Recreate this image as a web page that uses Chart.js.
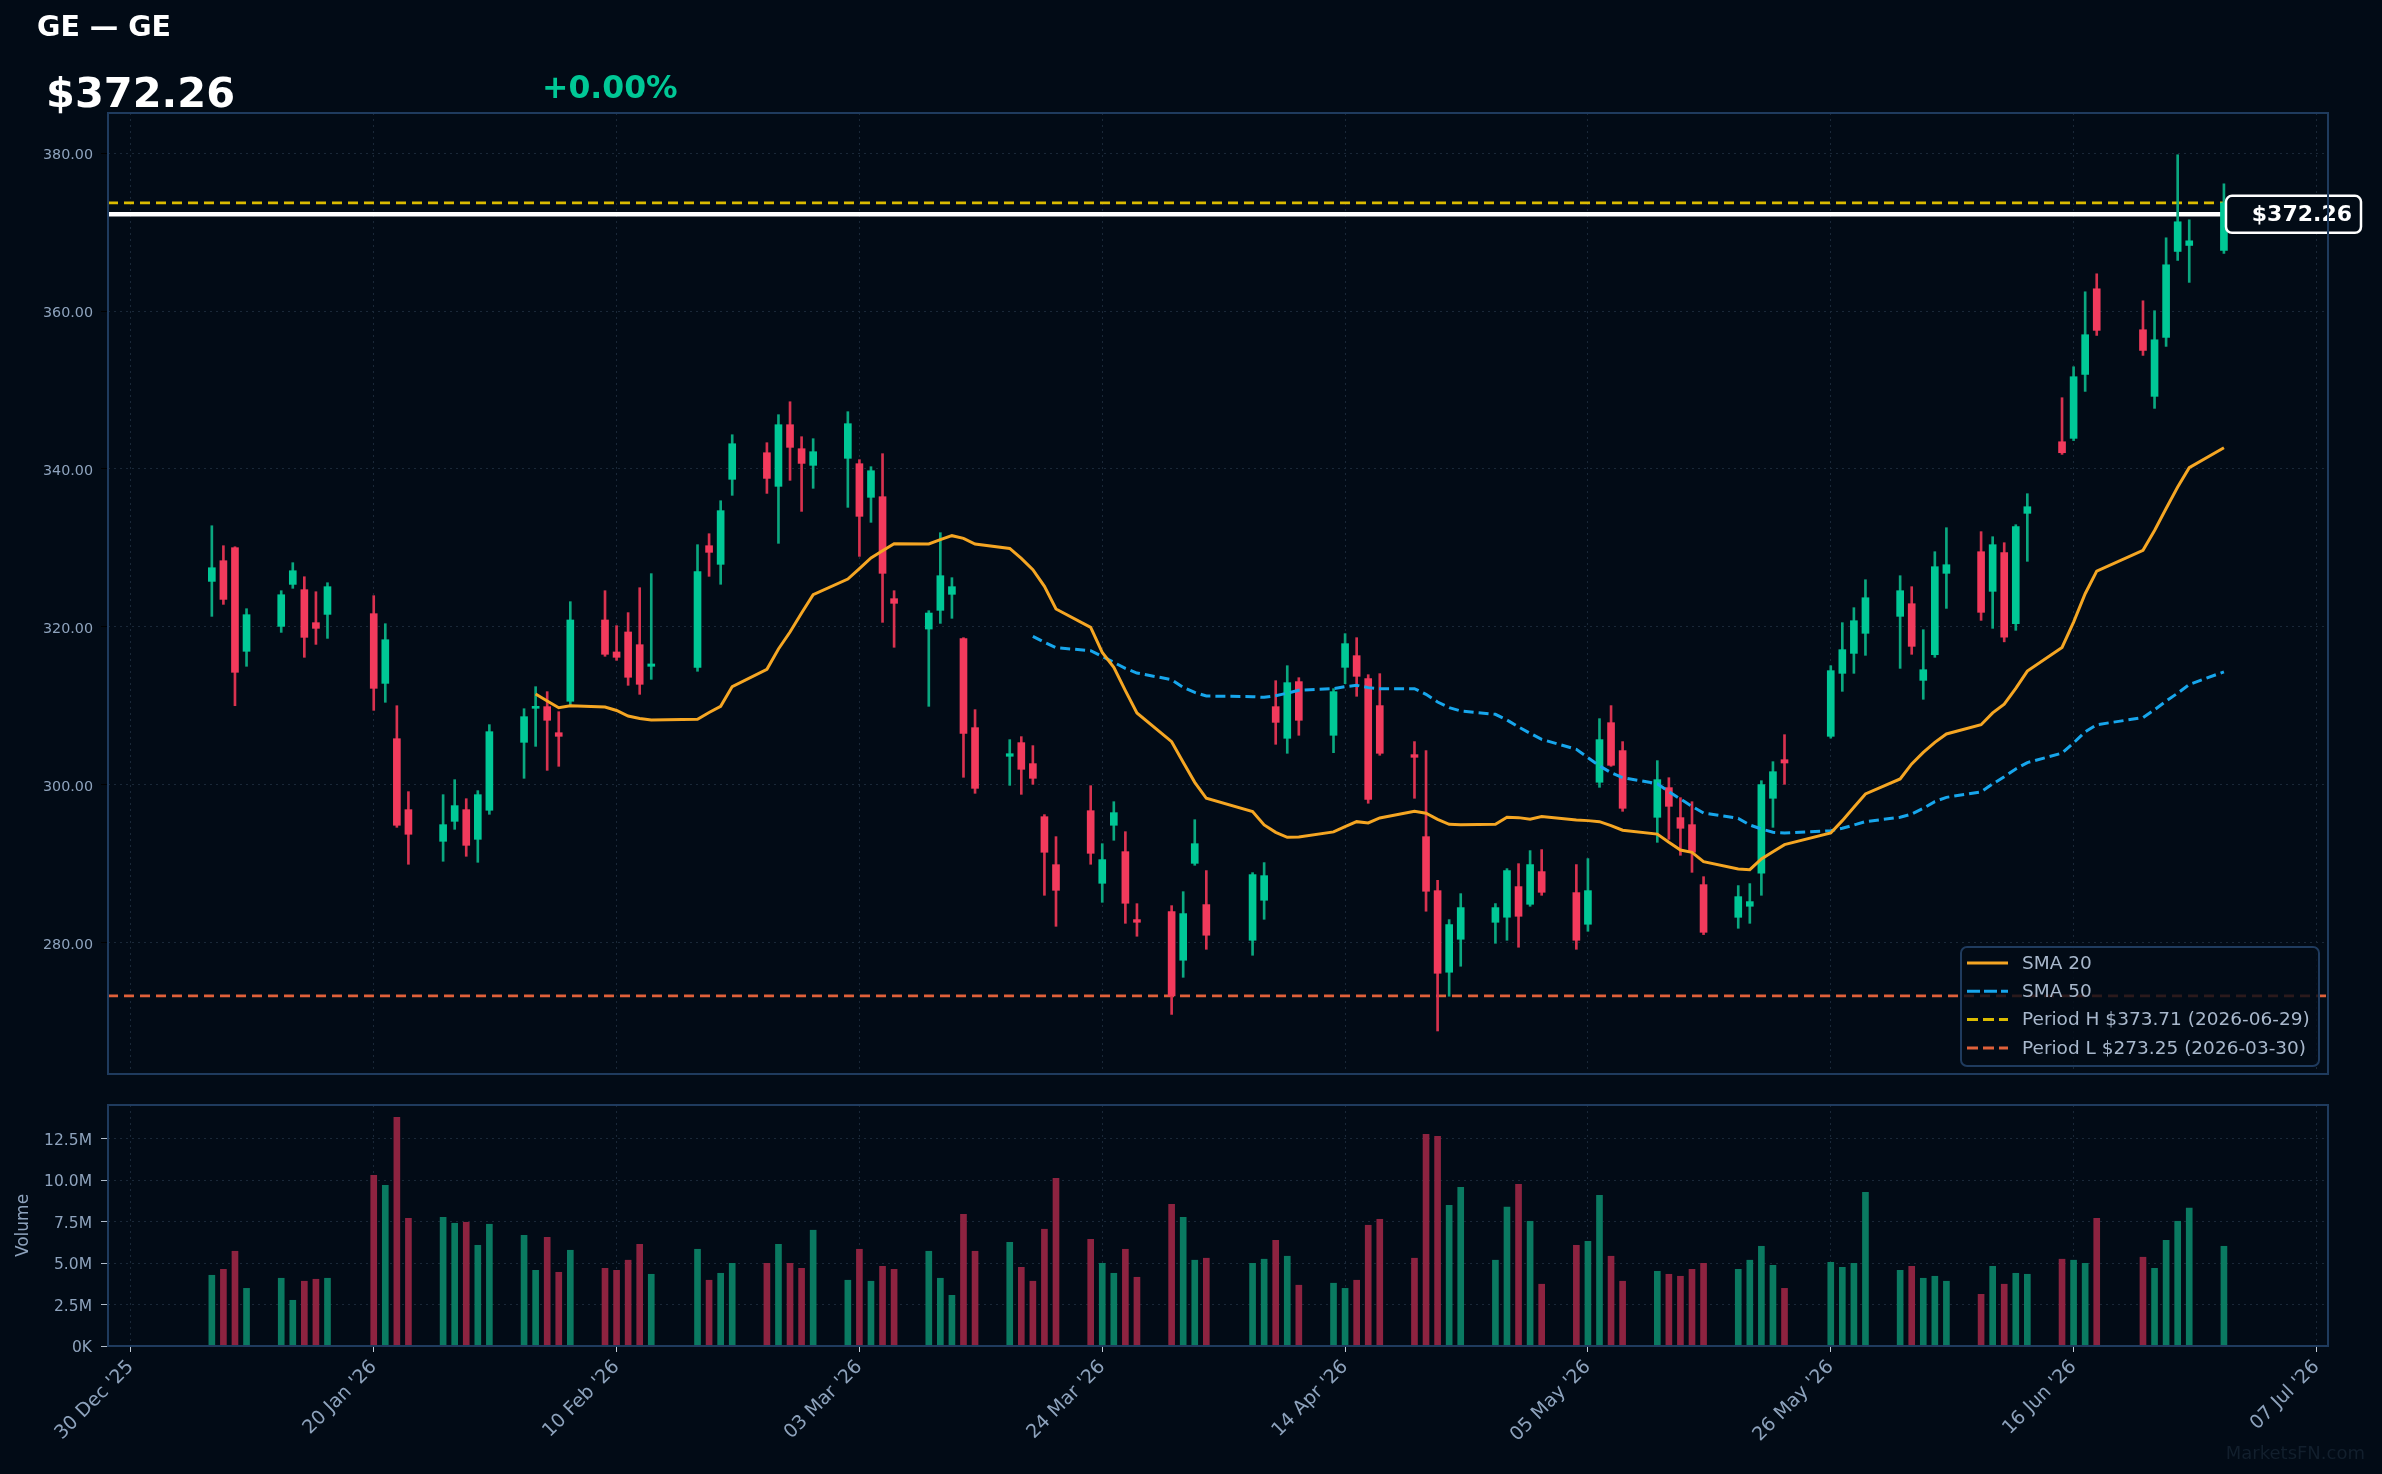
<!DOCTYPE html>
<html>
<head>
<meta charset="utf-8">
<script src="https://cdn.jsdelivr.net/npm/chart.js@4.4.1/dist/chart.umd.min.js"></script>
<style>
  html, body { margin: 0; padding: 0; background: #020b16; }
  body { width: 2382px; height: 1474px; position: relative; overflow: hidden; font-family: "DejaVu Sans", sans-serif; }
  canvas { position: absolute; left: 0; }
  #price { top: 0; }
  #volume { top: 1090px; }
  .txt { position: absolute; white-space: nowrap; line-height: 1; font-weight: bold; z-index: 2; }
  #title { left: 37px; top: 13px; font-size: 28.5px; color: #ffffff; }
  #last { left: 46px; top: 72px; font-size: 41.5px; color: #ffffff; }
  #change { left: 542px; top: 72px; font-size: 31.5px; color: #00c896; }
  #mark { right: 17px; top: 1444px; font-size: 18px; color: #121f2d; font-weight: normal; }
</style>
</head>
<body>
<div class="txt" id="title">GE — GE</div>
<div class="txt" id="last">$372.26</div>
<div class="txt" id="change">+0.00%</div>
<div class="txt" id="mark">MarketsFN.com</div>
<canvas id="price" width="2382" height="1090"></canvas>
<canvas id="volume" width="2382" height="384"></canvas>
<script>
// daily candles
const dates = [
  '2026-01-06','2026-01-07','2026-01-08','2026-01-09','2026-01-12','2026-01-13','2026-01-14','2026-01-15','2026-01-16',
  '2026-01-20','2026-01-21','2026-01-22','2026-01-23','2026-01-26','2026-01-27','2026-01-28','2026-01-29','2026-01-30',
  '2026-02-02','2026-02-03','2026-02-04','2026-02-05','2026-02-06','2026-02-09','2026-02-10','2026-02-11','2026-02-12','2026-02-13',
  '2026-02-17','2026-02-18','2026-02-19','2026-02-20','2026-02-23','2026-02-24','2026-02-25','2026-02-26','2026-02-27',
  '2026-03-02','2026-03-03','2026-03-04','2026-03-05','2026-03-06','2026-03-09','2026-03-10','2026-03-11','2026-03-12','2026-03-13',
  '2026-03-16','2026-03-17','2026-03-18','2026-03-19','2026-03-20','2026-03-23','2026-03-24','2026-03-25','2026-03-26','2026-03-27',
  '2026-03-30','2026-03-31','2026-04-01','2026-04-02',
  '2026-04-06','2026-04-07','2026-04-08','2026-04-09','2026-04-10','2026-04-13','2026-04-14','2026-04-15','2026-04-16','2026-04-17',
  '2026-04-20','2026-04-21','2026-04-22','2026-04-23','2026-04-24','2026-04-27','2026-04-28','2026-04-29','2026-04-30',
  '2026-05-01','2026-05-04','2026-05-05','2026-05-06','2026-05-07','2026-05-08','2026-05-11','2026-05-12','2026-05-13','2026-05-14','2026-05-15',
  '2026-05-18','2026-05-19','2026-05-20','2026-05-21','2026-05-22','2026-05-26','2026-05-27','2026-05-28','2026-05-29',
  '2026-06-01','2026-06-02','2026-06-03','2026-06-04','2026-06-05','2026-06-08','2026-06-09','2026-06-10','2026-06-11','2026-06-12',
  '2026-06-15','2026-06-16','2026-06-17','2026-06-18','2026-06-22','2026-06-23','2026-06-24','2026-06-25','2026-06-26','2026-06-29'
];
const opens = [
  325.76,328.38,330.03,316.90,320.06,325.38,324.71,320.53,321.58,321.67,312.84,305.83,296.84,292.83,295.36,296.84,293.08,296.76,
  305.37,309.68,309.89,306.59,310.57,320.87,316.82,319.35,317.74,315.00,314.87,330.28,327.92,338.69,342.06,337.80,345.61,342.57,340.46,
  341.35,340.67,336.41,336.49,323.57,319.72,322.09,324.12,318.50,307.23,303.60,305.33,302.67,295.95,289.87,296.71,287.51,294.86,291.52,282.91,283.92,277.76,
  290.04,284.81,
  280.29,285.36,309.89,305.88,313.06,306.26,314.87,316.35,313.44,310.02,303.81,293.42,286.58,276.24,280.42,282.57,283.21,287.09,284.85,
  288.99,286.33,282.32,300.31,307.86,304.32,295.87,299.63,295.83,294.94,287.34,283.20,284.60,288.78,298.28,303.17,306.13,314.11,316.64,319.18,
  321.33,322.93,313.22,316.47,326.78,329.52,324.50,329.40,320.40,334.38,343.45,343.88,351.98,362.83,357.64,349.20,356.67,367.56,368.32,367.69
];
const highs = [
  332.81,330.28,330.15,322.30,324.58,328.13,326.35,324.45,325.59,323.95,320.40,310.01,299.12,298.74,300.64,298.23,299.25,307.61,
  309.63,312.42,311.79,309.25,323.19,324.58,320.15,321.80,324.96,326.74,330.41,331.80,335.98,344.34,343.33,346.88,348.52,344.09,343.84,
  347.26,341.18,340.29,341.94,324.58,322.05,331.93,326.23,318.63,309.51,305.71,306.09,304.95,296.21,293.42,299.88,292.53,297.85,294.05,284.93,284.68,286.45,
  295.57,289.12,
  288.86,290.13,313.18,315.08,313.56,312.17,319.14,318.63,313.94,314.07,305.46,304.32,287.89,282.91,286.20,284.94,289.37,290.00,291.65,
  291.78,289.88,290.64,308.37,310.02,305.46,303.05,300.89,298.36,297.85,288.35,287.22,287.47,300.51,302.92,306.34,315.08,320.53,322.43,325.97,
  326.48,325.09,319.64,329.52,332.56,332.06,331.42,330.66,332.94,336.87,349.03,352.95,362.45,364.73,361.31,360.05,369.29,379.81,371.57,376.13
];
const lows = [
  321.33,322.85,310.01,315.00,319.30,324.88,316.14,317.78,318.54,309.42,310.44,294.60,289.92,290.30,294.35,290.93,290.17,296.25,
  300.81,304.86,301.82,302.33,310.10,316.27,315.76,312.59,311.45,313.35,314.37,326.40,325.39,336.66,336.91,330.58,338.56,334.63,337.55,
  335.14,328.93,333.24,320.57,317.41,309.93,320.44,321.08,300.94,298.91,299.92,298.78,300.05,285.99,282.06,289.92,285.10,292.96,282.44,280.80,270.90,275.60,
  289.79,279.15,
  278.39,282.95,305.12,303.98,306.26,304.06,312.80,311.20,297.65,303.73,298.28,283.97,268.80,273.20,277.00,279.91,280.29,279.41,284.60,
  285.99,279.15,281.43,299.67,302.33,296.63,292.70,293.08,291.06,288.90,281.01,281.81,282.44,285.99,294.60,300.05,305.90,311.83,314.11,316.39,
  314.74,316.52,310.82,316.14,322.34,320.82,319.81,318.10,319.56,328.30,341.85,343.60,349.83,356.92,354.39,347.68,355.53,366.42,363.64,367.31
];
const closes = [
  327.49,323.48,314.24,321.54,324.07,327.11,318.67,319.81,325.09,312.21,318.37,294.86,293.72,294.94,297.35,292.32,298.74,306.72,
  308.62,309.89,308.16,306.13,320.87,316.52,316.14,313.61,312.72,315.30,326.99,329.44,334.72,343.20,338.81,345.61,342.74,340.71,342.19,
  345.74,334.00,339.78,326.78,322.98,321.75,326.48,325.09,306.51,299.54,303.93,301.95,300.81,291.44,286.62,291.31,290.51,296.46,284.98,282.57,273.25,283.67,
  292.53,280.93,
  288.61,288.48,307.90,312.93,308.16,311.79,317.87,313.73,298.15,303.98,303.47,286.50,276.11,282.28,284.43,284.43,289.12,283.33,289.88,
  286.37,280.29,286.58,305.71,302.46,297.01,300.64,297.26,294.48,291.44,281.30,285.82,285.19,300.01,301.65,302.75,314.45,317.11,320.78,323.69,
  324.58,317.53,314.57,327.62,327.87,321.84,330.41,318.70,332.69,335.22,342.06,351.69,357.01,357.56,355.02,356.37,365.87,371.32,368.91,373.71
];
const volumes = [
  4.27e6,4.63e6,5.72e6,3.48e6,4.09e6,2.76e6,3.91e6,4.03e6,4.09e6,10.31e6,9.70e6,13.81e6,7.71e6,7.77e6,7.41e6,7.47e6,6.08e6,7.35e6,
  6.68e6,4.57e6,6.56e6,4.45e6,5.78e6,4.69e6,4.57e6,5.18e6,6.14e6,4.33e6,5.84e6,3.97e6,4.39e6,4.99e6,4.99e6,6.14e6,4.99e6,4.69e6,6.99e6,
  3.97e6,5.84e6,3.91e6,4.81e6,4.63e6,5.72e6,4.09e6,3.06e6,7.95e6,5.72e6,6.26e6,4.75e6,3.91e6,7.05e6,10.13e6,6.44e6,4.99e6,4.39e6,5.84e6,4.15e6,8.56e6,7.77e6,
  5.18e6,5.30e6,
  4.99e6,5.24e6,6.38e6,5.42e6,3.67e6,3.79e6,3.48e6,3.97e6,7.29e6,7.65e6,5.30e6,12.78e6,12.66e6,8.50e6,9.58e6,5.18e6,8.38e6,9.76e6,7.53e6,
  3.73e6,6.08e6,6.32e6,9.10e6,5.42e6,3.91e6,4.51e6,4.33e6,4.21e6,4.63e6,4.99e6,4.63e6,5.18e6,6.02e6,4.87e6,3.48e6,5.05e6,4.75e6,4.99e6,9.28e6,
  4.57e6,4.81e6,4.09e6,4.21e6,3.91e6,3.12e6,4.81e6,3.73e6,4.39e6,4.33e6,5.24e6,5.18e6,4.99e6,7.71e6,5.36e6,4.69e6,6.38e6,7.53e6,8.32e6,6.02e6
];
// moving averages as drawn (null before enough history)
const sma20 = [
  null,null,null,null,null,null,null,null,null,null,null,null,null,null,null,null,null,null,null,
  311.5,310.6,309.75,310.0,309.85,309.4,308.7,308.4,308.2,308.3,309.15,309.93,312.43,314.62,317.20,319.35,321.76,324.08,
  326.06,327.37,328.72,329.65,330.54,330.5,331.04,331.55,331.21,330.49,329.94,328.68,327.24,325.13,322.26,319.94,316.77,314.87,311.91,309.09,305.45,302.84,
  300.30,298.28,
  296.59,294.90,293.97,293.34,293.38,294.02,294.69,295.32,295.16,295.79,296.63,296.38,295.62,294.99,294.94,294.99,295.87,295.83,295.62,
  295.96,295.54,295.45,295.32,294.82,294.23,293.74,292.70,291.73,291.44,290.26,289.33,289.24,290.59,291.52,292.41,293.89,295.45,297.14,298.83,
  300.73,302.63,304.10,305.37,306.43,307.6,309.1,310.2,312.2,314.4,317.4,320.6,324.20,327.07,329.69,332.2,335.0,337.71,340.16,342.69
];
const sma50 = [
  null,null,null,null,null,null,null,null,null,null,null,null,null,null,null,null,null,null,
  null,null,null,null,null,null,null,null,null,null,null,null,null,null,null,null,null,null,null,
  null,null,null,null,null,null,null,null,null,null,null,null,
  318.80,318.04,317.36,316.98,316.26,315.50,314.74,314.15,313.31,312.34,
  311.70,311.24,
  311.15,311.07,311.28,311.6,311.96,312.17,312.42,312.59,312.30,312.17,312.17,311.45,310.48,309.76,309.34,308.92,308.20,307.32,306.51,
  305.75,304.49,303.43,302.38,301.53,300.90,300.12,299.12,298.19,297.26,296.42,295.74,294.90,294.39,293.97,293.89,294.18,294.48,294.90,295.32,
  295.87,296.29,297.01,297.86,298.40,299.1,300.1,301.0,302.0,302.8,304.0,305.3,306.7,307.6,308.5,309.5,310.6,311.6,312.7,314.3
];
const xTickDates = ['2025-12-30','2026-01-20','2026-02-10','2026-03-03','2026-03-24','2026-04-14','2026-05-05','2026-05-26','2026-06-16','2026-07-07'];
const xTickLabels = ["30 Dec '25","20 Jan '26","10 Feb '26","03 Mar '26","24 Mar '26","14 Apr '26","05 May '26","26 May '26","16 Jun '26","07 Jul '26"];
const priceTicks = [280, 300, 320, 340, 360, 380];
const volumeTicks = [0, 2.5e6, 5e6, 7.5e6, 10e6, 12.5e6];
const lastPrice = 372.26;
const periodHigh = 373.71, periodHighDate = '2026-06-29';
const periodLow = 273.25, periodLowDate = '2026-03-30';

const BG = '#020b16';
const GRID = '#1a2838';
const SPINE = '#1f3b5e';
const TICKTXT = '#8ea3bd';
const GREEN = '#00c896', RED = '#f23a5c';
const WICK_G = '#0aa880', WICK_R = '#d8324f';
const VOL_G = '#0a7a61', VOL_R = '#8d2340';
const SMA20_C = '#f5a623', SMA50_C = '#17a6ec';
const HI_C = '#dcbc00', LO_C = '#e0613a';

Chart.defaults.font.family = "'DejaVu Sans', sans-serif";

const base = Date.UTC(2025, 11, 30);
const dayOf = s => (Date.parse(s + 'T00:00:00Z') - base) / 864e5;
const days = dates.map(dayOf);
const xTickDays = xTickDates.map(dayOf);
const up = closes.map((c, i) => c >= opens[i]);
const xMin = -1.98, xMax = 190;

function hline(ctx, a, y, color, width, dash) {
  ctx.beginPath();
  ctx.setLineDash(dash);
  ctx.strokeStyle = color;
  ctx.lineWidth = width;
  ctx.moveTo(a.left, y);
  ctx.lineTo(a.right, y);
  ctx.stroke();
}

function roundRect(ctx, x, y, w, h, r) {
  ctx.beginPath();
  ctx.moveTo(x + r, y);
  ctx.arcTo(x + w, y, x + w, y + h, r);
  ctx.arcTo(x + w, y + h, x, y + h, r);
  ctx.arcTo(x, y + h, x, y, r);
  ctx.arcTo(x, y, x + w, y, r);
  ctx.closePath();
}

// keep axis label overhang from shrinking the plot boxes
function fixBox(s, size) {
  if (s.isHorizontal()) s.height = size; else s.width = size;
  s.paddingTop = 0; s.paddingBottom = 0; s.paddingLeft = 0; s.paddingRight = 0;
}

const legendItems = [
  { label: 'SMA 20', color: SMA20_C, dash: [] },
  { label: 'SMA 50', color: SMA50_C, dash: [13, 4] },
  { label: 'Period H $' + periodHigh.toFixed(2) + ' (' + periodHighDate + ')', color: HI_C, dash: [11, 5] },
  { label: 'Period L $' + periodLow.toFixed(2) + ' (' + periodLowDate + ')', color: LO_C, dash: [11, 5] }
];

const frame = {
  id: 'frame',
  afterDraw(chart) {
    const { ctx, chartArea: a } = chart;
    ctx.save();
    ctx.setLineDash([]);
    ctx.strokeStyle = SPINE;
    ctx.lineWidth = 2;
    ctx.strokeRect(a.left, a.top, a.width, a.height);
    ctx.restore();
  }
};

const priceDecor = {
  id: 'priceDecor',
  beforeDatasetsDraw(chart) {
    const { ctx, chartArea: a, scales: { y } } = chart;
    ctx.save();
    ctx.beginPath();
    ctx.rect(a.left, a.top, a.width, a.height);
    ctx.clip();
    hline(ctx, a, y.getPixelForValue(periodLow), LO_C, 2.6, [10, 6]);
    hline(ctx, a, y.getPixelForValue(periodHigh), HI_C, 2.6, [10, 6]);
    hline(ctx, a, y.getPixelForValue(lastPrice), '#ffffff', 4.5, []);
    ctx.restore();
  },
  afterDraw(chart) {
    const { ctx, chartArea: a, scales: { y } } = chart;
    ctx.save();
    // legend
    const w = 358, h = 119;
    const lx = a.right - 9 - w, ly = a.bottom - 8 - h;
    roundRect(ctx, lx, ly, w, h, 6);
    ctx.fillStyle = 'rgba(2,11,22,0.82)';
    ctx.fill();
    ctx.strokeStyle = SPINE;
    ctx.lineWidth = 2;
    ctx.stroke();
    ctx.font = '18.5px "DejaVu Sans"';
    ctx.textBaseline = 'middle';
    ctx.textAlign = 'left';
    legendItems.forEach((it, i) => {
      const cy = ly + 16 + i * 28.3;
      ctx.beginPath();
      ctx.setLineDash(it.dash);
      ctx.strokeStyle = it.color;
      ctx.lineWidth = 3;
      ctx.moveTo(lx + 6, cy);
      ctx.lineTo(lx + 47, cy);
      ctx.stroke();
      ctx.setLineDash([]);
      ctx.fillStyle = '#a8b8cc';
      ctx.fillText(it.label, lx + 61, cy + 1);
    });
    // last price tag
    const py = y.getPixelForValue(lastPrice);
    roundRect(ctx, a.right - 102, py - 18.5, 135, 37, 6);
    ctx.fillStyle = BG;
    ctx.fill();
    ctx.strokeStyle = '#ffffff';
    ctx.lineWidth = 2.5;
    ctx.stroke();
    ctx.fillStyle = '#ffffff';
    ctx.font = 'bold 22px "DejaVu Sans"';
    ctx.textAlign = 'right';
    ctx.fillText('$' + lastPrice.toFixed(2), a.right + 24, py + 1);
    ctx.restore();
  }
};

function xAxis(showLabels) {
  return {
    type: 'linear', min: xMin, max: xMax, offset: false,
    afterBuildTicks: s => { s.ticks = xTickDays.map(v => ({ value: v })); },
    afterFit: s => fixBox(s, showLabels ? 128 : 0),
    ticks: showLabels ? {
      display: true, autoSkip: false, maxRotation: 45, minRotation: 45, padding: 4,
      color: TICKTXT, font: { size: 19 },
      callback: (v, i) => xTickLabels[i]
    } : { display: false },
    grid: { color: GRID, offset: false, drawTicks: showLabels, tickLength: 6, tickColor: '#c4cdd8', tickBorderDash: [] },
    border: { display: false, dash: [2, 4] }
  };
}

new Chart(document.getElementById('price'), {
  type: 'bar',
  data: {
    datasets: [
      {
        type: 'line', label: 'SMA 20', order: 0,
        data: days.map((d, i) => ({ x: d, y: sma20[i] })).filter(p => p.y !== null),
        borderColor: SMA20_C, borderWidth: 3, pointRadius: 0, tension: 0
      },
      {
        type: 'line', label: 'SMA 50', order: 0,
        data: days.map((d, i) => ({ x: d, y: sma50[i] })).filter(p => p.y !== null),
        borderColor: SMA50_C, borderWidth: 3, borderDash: [10, 5], pointRadius: 0, tension: 0
      },
      {
        label: 'body', order: 1,
        data: days.map((d, i) => ({ x: d, y: [opens[i], closes[i]] })),
        backgroundColor: up.map(u => u ? GREEN : RED),
        barThickness: 7, grouped: false, minBarLength: 2, borderWidth: 0
      },
      {
        label: 'wick', order: 2,
        data: days.map((d, i) => ({ x: d, y: [lows[i], highs[i]] })),
        backgroundColor: up.map(u => u ? WICK_G : WICK_R),
        barThickness: 2, grouped: false, borderWidth: 0
      }
    ]
  },
  options: {
    responsive: false, animation: false,
    layout: { padding: { top: 113, right: 54, bottom: 16, left: 0 } },
    plugins: { legend: { display: false }, tooltip: { enabled: false } },
    scales: {
      x: xAxis(false),
      y: {
        min: 263.35, max: 385.1,
        afterBuildTicks: s => { s.ticks = priceTicks.map(v => ({ value: v })); },
        afterFit: s => fixBox(s, 108),
        ticks: { color: TICKTXT, font: { size: 14.3 }, padding: 8, labelOffset: 2.5, callback: v => v.toFixed(2) },
        grid: { color: GRID, tickColor: '#000000', tickLength: 7, tickBorderDash: [] },
        border: { display: false, dash: [2, 4] }
      }
    }
  },
  plugins: [priceDecor, frame]
});

new Chart(document.getElementById('volume'), {
  type: 'bar',
  data: {
    datasets: [{
      label: 'Volume',
      data: days.map((d, i) => ({ x: d, y: volumes[i] })),
      backgroundColor: up.map(u => u ? VOL_G : VOL_R),
      barThickness: 6, grouped: false, borderWidth: 0
    }]
  },
  options: {
    responsive: false, animation: false,
    layout: { padding: { top: 15, right: 54, bottom: 0, left: 0 } },
    plugins: { legend: { display: false }, tooltip: { enabled: false } },
    scales: {
      x: xAxis(true),
      y: {
        min: 0, max: 14.55e6,
        afterBuildTicks: s => { s.ticks = volumeTicks.map(v => ({ value: v })); },
        afterFit: s => fixBox(s, 108),
        ticks: {
          color: TICKTXT, font: { size: 15.5 }, padding: 9, labelOffset: 2,
          callback: v => v === 0 ? '0K' : (v / 1e6).toFixed(1) + 'M'
        },
        title: { display: true, text: 'Volume', color: TICKTXT, font: { size: 17 }, padding: { top: 13, bottom: 0 } },
        grid: { color: GRID, tickColor: '#b0bccb', tickLength: 7, tickBorderDash: [] },
        border: { display: false, dash: [2, 4] }
      }
    }
  },
  plugins: [frame]
});
</script>
</body>
</html>
